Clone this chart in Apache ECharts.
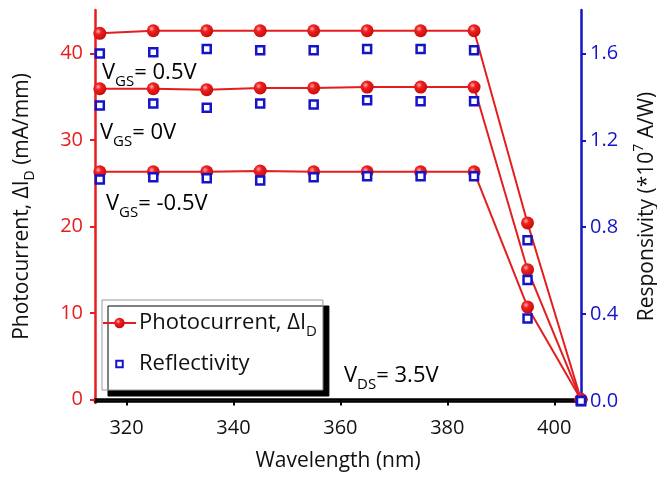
<!DOCTYPE html>
<html>
<head>
<meta charset="utf-8">
<script src="https://cdn.jsdelivr.net/npm/echarts@6/dist/echarts.min.js"></script>
<style>
html,body{margin:0;padding:0;background:#fff;}
#chart{width:657px;height:477px;}
</style>
</head>
<body>
<div id="chart"></div>
<script>
// ---- data ----
var wavelength = [315, 325, 335, 345, 355, 365, 375, 385, 395, 405];
var photoVgs05 = [42.3, 42.6, 42.6, 42.6, 42.6, 42.6, 42.6, 42.6, 20.4, 0];
var photoVgs0 = [35.9, 35.9, 35.8, 36.0, 36.0, 36.1, 36.1, 36.1, 15.0, 0];
var photoVgsM05 = [26.3, 26.3, 26.3, 26.4, 26.3, 26.3, 26.3, 26.3, 10.7, 0];
var respVgs05 = [1.60, 1.605, 1.62, 1.615, 1.615, 1.62, 1.62, 1.615, 0.74, 0];
var respVgs0 = [1.36, 1.37, 1.35, 1.37, 1.365, 1.385, 1.38, 1.38, 0.557, 0];
var respVgsM05 = [1.02, 1.03, 1.025, 1.015, 1.03, 1.035, 1.035, 1.035, 0.38, 0];
var xTicks = [320, 340, 360, 380, 400];
var leftTicks = [0, 10, 20, 30, 40];
var rightTicks = [0, 0.4, 0.8, 1.2, 1.6];

var RED = '#e41e1e';
var BLUE = '#1414c8';
var FONT = '"Open Sans"';

function pairs(xs, ys) { return xs.map(function (x, i) { return [x, ys[i]]; }); }

var ball = {
  type: 'radial', x: 0.38, y: 0.35, r: 0.65,
  colorStops: [{ offset: 0, color: '#ffb0b0' }, { offset: 0.35, color: '#f02020' }, { offset: 1, color: '#c80c0c' }]
};

var PC_NAME = 'Photocurrent';
var RF_NAME = 'Reflectivity';

function lineSeries(d) {
  return {
    name: PC_NAME, type: 'line', xAxisIndex: 0, yAxisIndex: 0,
    data: pairs(wavelength, d), clip: false,
    symbol: 'circle', symbolSize: 13,
    itemStyle: { color: ball, borderWidth: 0 },
    lineStyle: { color: RED, width: 2 },
    z: 2
  };
}
function scatterSeries(d) {
  return {
    name: RF_NAME, type: 'scatter', xAxisIndex: 0, yAxisIndex: 1,
    data: pairs(wavelength, d), clip: false,
    symbol: 'rect', symbolSize: 8,
    itemStyle: { color: '#fff', borderColor: BLUE, borderWidth: 2.5, opacity: 1 },
    z: 3
  };
}

function rich(size, color) {
  color = color || '#111';
  var sub = Math.round(size * 0.68);
  return {
    a: { fontFamily: FONT, fontSize: size, color: color, lineHeight: Math.round(size * 1.45), verticalAlign: 'middle' },
    s: { fontFamily: FONT, fontSize: sub, color: color, lineHeight: sub + 1, verticalAlign: 'bottom' },
    p: { fontFamily: FONT, fontSize: sub, color: color, lineHeight: sub + 1, verticalAlign: 'top' }
  };
}

var chart = echarts.init(document.getElementById('chart'), null, { renderer: 'canvas' });

var option = {
  animation: false,
  backgroundColor: '#fff',
  grid: { left: 95, right: 76, top: 10, bottom: 74, containLabel: false, outerBoundsMode: 'none' },
  legend: {
    orient: 'vertical', left: 102, top: 300,
    data: [
      { name: PC_NAME },
      { name: RF_NAME, icon: 'path://M-4,-4L-4,-4M0,0L8,0L8,8L0,8ZM12,12L12,12' }
    ],
    symbolKeepAspect: true,
    itemWidth: 33, itemHeight: 13, itemGap: 14,
    padding: [12, 6, 15, 0],
    backgroundColor: '#fff',
    borderColor: '#999', borderWidth: 1,
    shadowColor: '#000', shadowBlur: 0, shadowOffsetX: 6, shadowOffsetY: 6,
    formatter: function (n) {
      return n === PC_NAME ? '{a|Photocurrent, ΔI}{s|D}' : '{a|Reflectivity}';
    },
    textStyle: { rich: rich(22), padding: [0, 0, 0, -2] }
  },
  xAxis: [{
    type: 'value', position: 'bottom', min: 314.1, max: 405,
    name: '{a|Wavelength (nm)}', nameLocation: 'middle', nameGap: 43,
    nameTextStyle: { rich: rich(21) },
    axisLine: { show: true, lineStyle: { color: '#000', width: 2.5 } },
    axisTick: { show: true, length: 6, inside: false, customValues: xTicks, lineStyle: { color: '#000', width: 2 } },
    axisLabel: { customValues: xTicks, margin: 15, fontFamily: FONT, fontSize: 20, color: '#111' },
    splitLine: { show: false }
  }, {
    type: 'value', position: 'top', min: 314.1, max: 405,
    axisLine: { show: true, lineStyle: { color: '#000', width: 2.5 } },
    axisTick: { show: false }, axisLabel: { show: false }, splitLine: { show: false }
  }],
  yAxis: [{
    type: 'value', position: 'left', min: -0.4, max: 45,
    name: '{a|Photocurrent, ΔI}{s|D}{a| (mA/mm)}', nameLocation: 'middle', nameGap: 58, nameRotate: 90,
    nameTextStyle: { rich: rich(21) },
    axisLine: { show: true, lineStyle: { color: RED, width: 2.5 } },
    axisTick: { show: true, length: 5, customValues: leftTicks, lineStyle: { color: RED, width: 2 } },
    axisLabel: { customValues: leftTicks, margin: 12, fontFamily: FONT, fontSize: 20, color: RED },
    splitLine: { show: false }
  }, {
    type: 'value', position: 'right', min: -0.009, max: 1.8,
    name: '{a|Responsivity (*10}{p|7}{a| A/W)}', nameLocation: 'middle', nameGap: 51, nameRotate: 90,
    nameTextStyle: { rich: rich(21) },
    axisLine: { show: true, lineStyle: { color: BLUE, width: 2.5 } },
    axisTick: { show: true, length: 5, customValues: rightTicks, lineStyle: { color: BLUE, width: 2 } },
    axisLabel: { customValues: rightTicks, margin: 9, fontFamily: FONT, fontSize: 20, color: BLUE,
      formatter: function (v) { return v.toFixed(1); } },
    splitLine: { show: false }
  }],
  series: [
    lineSeries(photoVgs05), lineSeries(photoVgs0), lineSeries(photoVgsM05),
    scatterSeries(respVgs05), scatterSeries(respVgs0), scatterSeries(respVgsM05)
  ],
  graphic: [
    { type: 'text', left: 102, top: 62, z: 10, style: { text: '{a|V}{s|GS}{a|= 0.5V}', rich: rich(22) } },
    { type: 'text', left: 100, top: 122, z: 10, style: { text: '{a|V}{s|GS}{a|= 0V}', rich: rich(22) } },
    { type: 'text', left: 106, top: 193, z: 10, style: { text: '{a|V}{s|GS}{a|= -0.5V}', rich: rich(22) } },
    { type: 'text', left: 344, top: 365, z: 10, style: { text: '{a|V}{s|DS}{a|= 3.5V}', rich: rich(22) } }
  ]
};
chart.setOption(option);
</script>
</body>
</html>
